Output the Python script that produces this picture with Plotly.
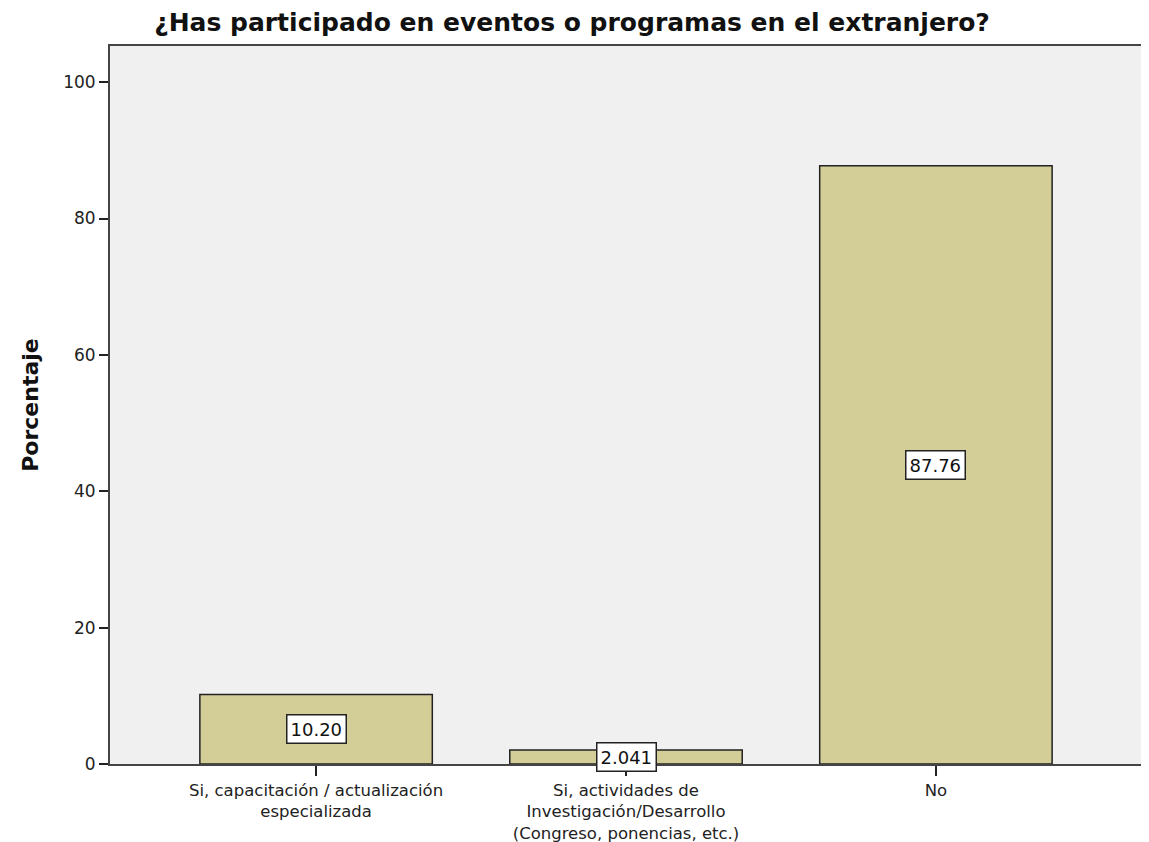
import plotly.graph_objects as go

categories = ["Si, capacitación / actualización<br>especializada",
              "Si, actividades de<br>Investigación/Desarrollo<br>(Congreso, ponencias, etc.)",
              "No"]
values = [10.204, 2.041, 87.755]
labels = ["10.20", "2.041", "87.76"]

x_idx = list(range(len(categories)))
FONT = "DejaVu Sans, Liberation Sans, Arial"

# page body has an 8px default margin, so the figure is sized/offset to fit
W, H = 1141, 834

fig = go.Figure()
fig.add_trace(go.Bar(
    x=x_idx, y=values, width=0.75,
    marker=dict(color="#D3CE97", line=dict(color="#222222", width=1.5)),
    hoverinfo="skip",
))

for i, (v, t) in enumerate(zip(values, labels)):
    fig.add_annotation(
        x=i, y=v / 2, text=t, showarrow=False,
        font=dict(family=FONT, size=18, color="#111111"),
        bgcolor="#FFFFFF", bordercolor="#222222", borderwidth=1.5, borderpad=3,
    )

fig.update_layout(
    width=W, height=H,
    paper_bgcolor="#FFFFFF", plot_bgcolor="#F0F0F0",
    margin=dict(l=102, r=7, t=38, b=78, autoexpand=False),
    showlegend=False,
    font=dict(family=FONT, color="#000000"),
    title=dict(text="<b>¿Has participado en eventos o programas en el extranjero?</b>",
               x=564 / W, xanchor="center", xref="container",
               y=1 - 14 / H, yanchor="middle", yref="container",
               font=dict(size=25, family=FONT, color="#111111")),
    xaxis=dict(
        range=[-0.665, 2.665], tickmode="array", tickvals=x_idx, ticktext=categories,
        ticks="outside", ticklen=10, tickwidth=1.5, tickcolor="#222222",
        showgrid=False, zeroline=False,
        showline=True, linecolor="#444444", linewidth=2, mirror=True,
        tickfont=dict(size=16.5, color="#222222"),
    ),
    yaxis=dict(
        range=[0, 105.3], tickvals=[0, 20, 40, 60, 80, 100],
        ticks="outside", ticklen=9, tickwidth=1.5, tickcolor="#222222",
        showgrid=False, zeroline=False,
        showline=True, linecolor="#444444", linewidth=2, mirror=True,
        tickfont=dict(size=17, color="#222222"),
        title=dict(text="<b>Porcentaje</b>", font=dict(size=22, color="#111111"), standoff=18),
    ),
)

fig.write_html("out.html")
